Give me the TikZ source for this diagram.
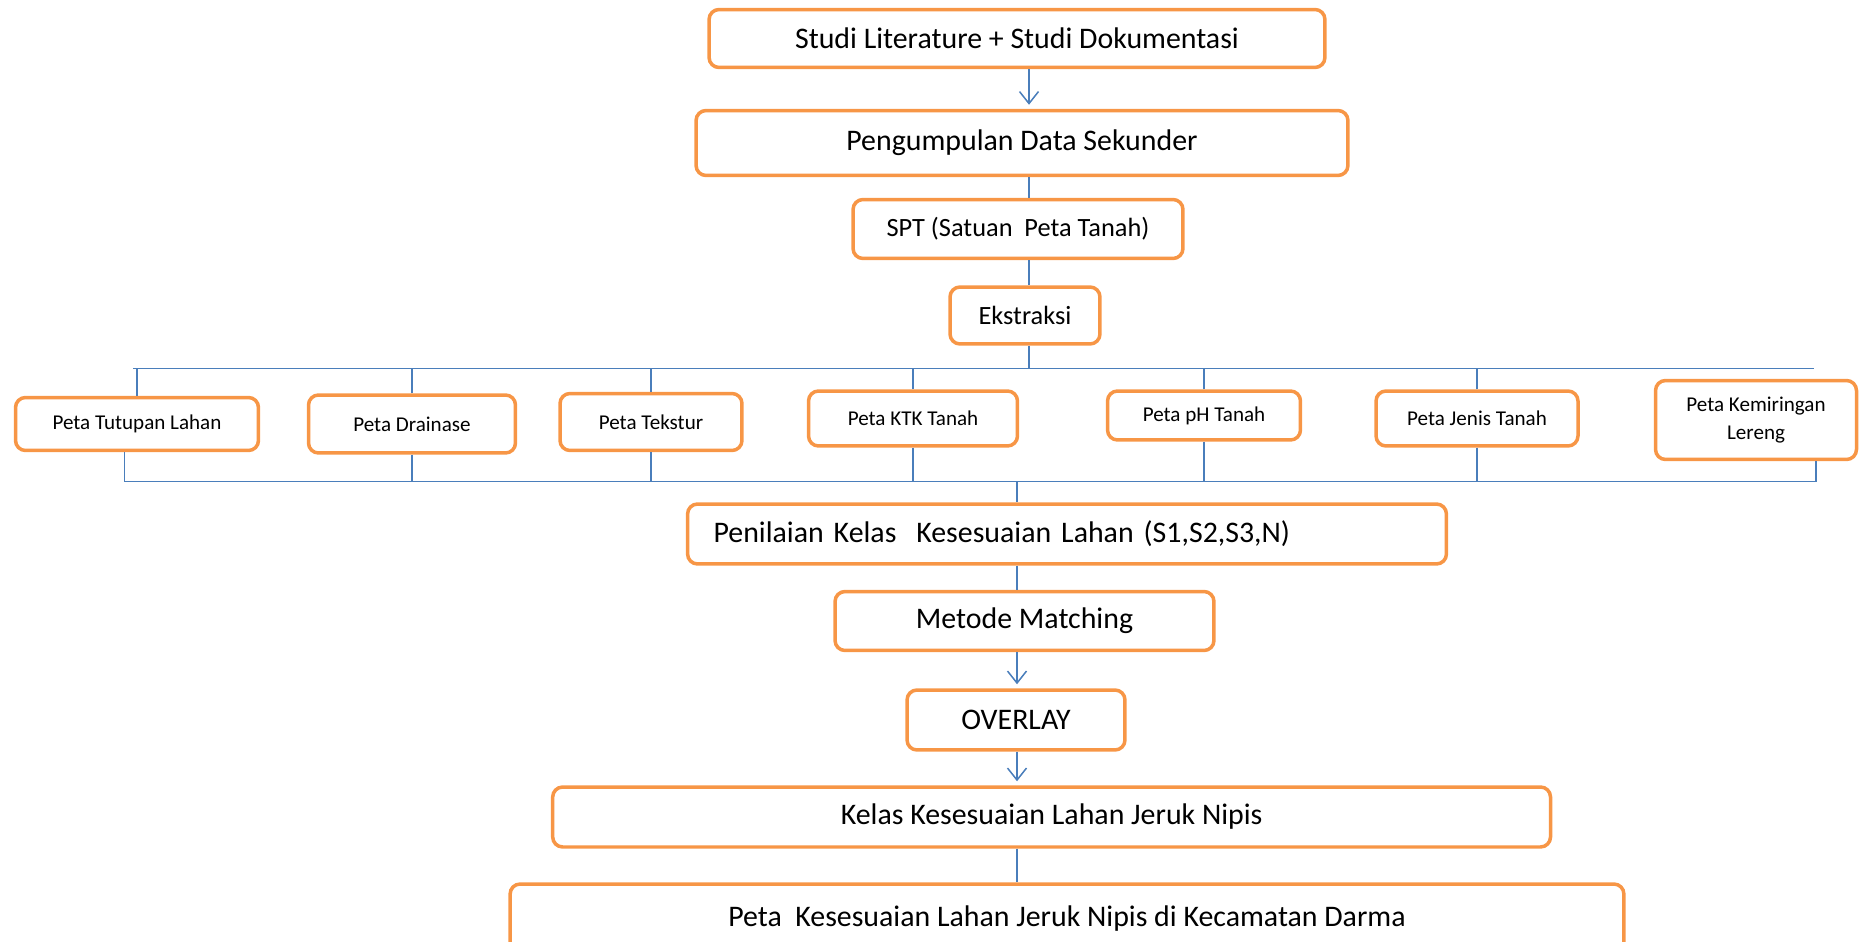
\documentclass[tikz,border=0pt]{standalone}
\usepackage{fontspec}
\setmainfont{Carlito}
\usetikzlibrary{arrows.meta}
\definecolor{boxorange}{HTML}{F79646}
\definecolor{linkblue}{HTML}{4A7EBB}

\begin{document}
\begin{tikzpicture}[x=0.02cm,y=-0.02cm,
  kotak/.style={draw=boxorange,line width=0.07cm,rounded corners=0.2cm,fill=white,inner sep=0pt,align=center,font=\fontsize{17}{20}\selectfont},
  kotakkecil/.style={kotak,font=\fontsize{15}{18}\selectfont},
  peta/.style={kotak,font=\fontsize{12}{16}\selectfont},
  garis/.style={draw=linkblue,line width=0.03cm},
  panah/.style={garis,-{Straight Barb[length=0.24cm,width=0.38cm]},shorten >=0.08cm}]
\clip (0,0) rectangle (1859,942);
\node[kotak,minimum width=12.32cm,minimum height=1.16cm] (studi) at (1017,38.5) {Studi Literature + Studi Dokumentasi};
\node[kotak,minimum width=13.04cm,minimum height=1.3cm] (kumpul) at (1022,143) {Pengumpulan Data Sekunder};
\node[kotakkecil,minimum width=6.6cm,minimum height=1.18cm] (spt) at (1018,229) {SPT (Satuan\ \ Peta Tanah)};
\node[kotakkecil,minimum width=3cm,minimum height=1.14cm] (ekstr) at (1025,315.5) {Ekstraksi};
\node[peta,minimum width=4.86cm,minimum height=1.06cm] (tutupan) at (137,424) {Peta Tutupan Lahan};
\node[peta,minimum width=4.14cm,minimum height=1.16cm] (drainase) at (412,424) {Peta Drainase};
\node[peta,minimum width=3.64cm,minimum height=1.14cm] (tekstur) at (651,422) {Peta Tekstur};
\node[peta,minimum width=4.18cm,minimum height=1.1cm] (ktk) at (913,418.5) {Peta KTK Tanah};
\node[peta,minimum width=3.86cm,minimum height=0.98cm] (ph) at (1204,415.5) {Peta pH Tanah};
\node[peta,minimum width=4.04cm,minimum height=1.1cm] (jenis) at (1477,418.5) {Peta Jenis Tanah};
\node[peta,minimum width=4.02cm,minimum height=1.58cm] (miring) at (1756,420) {Peta Kemiringan\\Lereng};
\node[kotak,text width=14.14cm,inner xsep=0.52cm,align=left,minimum height=1.2cm] (nilai) at (1067,534) {Penilaian Kelas\ \ Kesesuaian Lahan (S1,S2,S3,N)};
\node[kotak,minimum width=7.58cm,minimum height=1.18cm] (matching) at (1024.5,621) {Metode Matching};
\node[kotak,minimum width=4.36cm,minimum height=1.2cm] (overlay) at (1016,720) {OVERLAY};
\node[kotak,minimum width=19.96cm,minimum height=1.2cm] (kelas) at (1051.6,817) {Kelas Kesesuaian Lahan Jeruk Nipis};
\node[kotak,minimum width=22.28cm,minimum height=1.4cm] (hasil) at (1067,919) {Peta\ \ Kesesuaian Lahan Jeruk Nipis di Kecamatan Darma};
\coordinate (spineA) at (1029,0);
\coordinate (spineB) at (1017,0);
\coordinate (atasL) at (133,368.7);
\coordinate (atasR) at (1814,368.7);
\coordinate (bawahL) at (124.5,481.4);
\coordinate (bawahR) at (1816,481.4);
\draw[panah] (studi.south -| spineA) -- (kumpul.north -| spineA);
\draw[garis] (kumpul.south -| spineA) -- (spt.north -| spineA);
\draw[garis] (spt.south -| spineA) -- (ekstr.north -| spineA);
\draw[garis] (ekstr.south -| spineA) -- (atasL -| spineA);
\draw[garis] (atasL) -- (atasR);
\foreach \n in {tutupan,drainase,tekstur,ktk,ph,jenis}
  \draw[garis] (\n.north) -- (\n.north |- atasL);
\foreach \n in {drainase,tekstur,ktk,ph,jenis}
  \draw[garis] (\n.south) -- (\n.south |- bawahL);
\draw[garis] (bawahL |- tutupan.south) -- (bawahL) -- (bawahR) -- (bawahR |- miring.south);
\draw[garis] (bawahL -| spineB) -- (nilai.north -| spineB);
\draw[garis] (nilai.south -| spineB) -- (matching.north -| spineB);
\draw[panah] (matching.south -| spineB) -- (overlay.north -| spineB);
\draw[panah] (overlay.south -| spineB) -- (kelas.north -| spineB);
\draw[garis] (kelas.south -| spineB) -- (hasil.north -| spineB);
\end{tikzpicture}
\end{document}
